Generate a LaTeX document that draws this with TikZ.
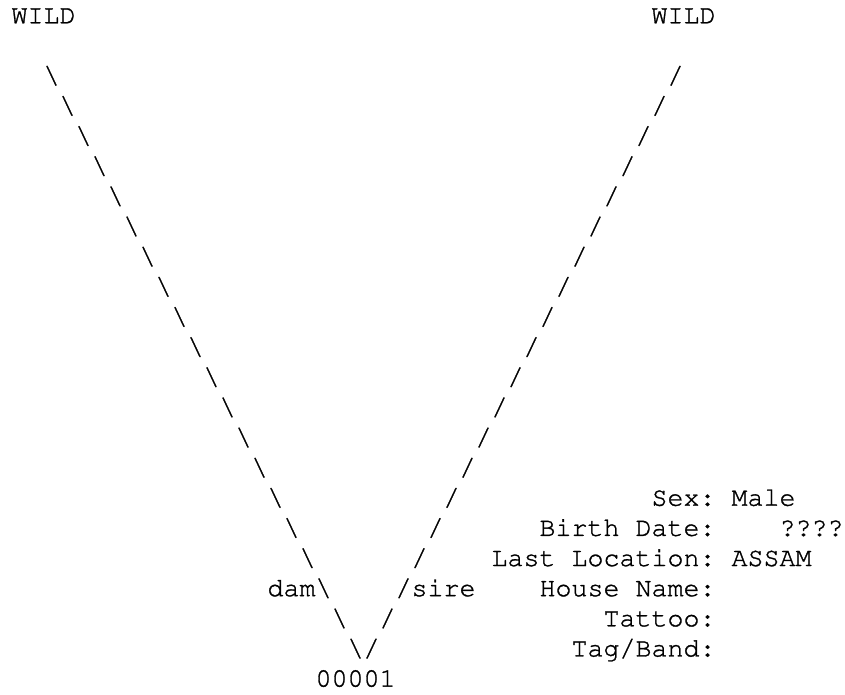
\documentclass[tikz,border=0pt]{standalone}
\usepackage[T1]{fontenc}
\newcommand\asciifont{\fontencoding{T1}\fontfamily{pcr}\fontseries{m}\fontshape{n}}
\newcommand\heavy[1]{\special{pdf:literal direct 2 Tr 0.3 w}#1\special{pdf:literal direct 0 Tr}}
\newcommand\txtat[4]{\node[txt] (#1) at ({\xo+(#2)*\cw},{-(\yo+(#3)*\lh)}) {\heavy{#4}};}
\begin{document}
\frenchspacing
\begin{tikzpicture}[x=1pt,y=1pt,
  txt/.style={anchor=base west,inner sep=0pt,outer sep=0pt,text=black,
    font=\asciifont\fontsize{26.67}{30}\selectfont\frenchspacing}]
\useasboundingbox (0,0) rectangle (845,-694);
\def\cw{16.0}
\def\xo{11.5}
\def\yo{23.3}
\def\lh{30.15}
% top row
\txtat{damwild}{0}{0}{WILD}
\txtat{sirewild}{40}{0}{WILD}
% dashed ASCII lines
\foreach \L in {2,...,18,20}{
  \txtat{l\L}{\L}{\L}{\textbackslash}
  \txtat{r\L}{43-\L}{\L}{/}
}
\txtat{dam}{16}{19}{dam\textbackslash}
\txtat{sire}{24}{19}{/sire}
\txtat{meet}{21}{21}{\textbackslash/}
\txtat{id}{19}{22}{00001}
% info block
\txtat{sex}{40}{16}{Sex: Male}
\txtat{birth}{33}{17}{Birth Date:}
\txtat{birthv}{48}{17}{????}
\txtat{loc}{30}{18}{Last Location: ASSAM}
\txtat{house}{33}{19}{House Name:}
\txtat{tattoo}{37}{20}{Tattoo:}
\txtat{tag}{35}{21}{Tag/Band:}
\end{tikzpicture}
\end{document}
